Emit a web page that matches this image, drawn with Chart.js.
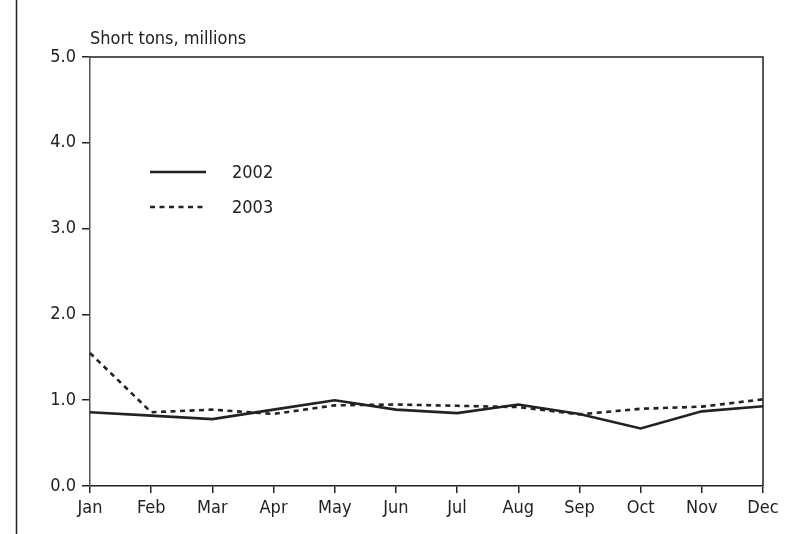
<!DOCTYPE html>
<html><head><meta charset="utf-8">
<script src="https://cdn.jsdelivr.net/npm/chart.js@4/dist/chart.umd.min.js"></script>
<style>html,body{margin:0;padding:0;background:#fff}#wrap{width:809px;height:534px;position:relative}</style>
</head><body><div id="wrap"><canvas id="c" width="809" height="534"></canvas></div>
<script>
const months = ["Jan","Feb","Mar","Apr","May","Jun","Jul","Aug","Sep","Oct","Nov","Dec"];
const series2002 = [0.86,0.82,0.78,0.89,1.00,0.89,0.85,0.95,0.84,0.67,0.87,0.93];
const series2003 = [1.55,0.86,0.89,0.84,0.94,0.95,0.935,0.92,0.835,0.90,0.925,1.01];
const seriesNames = ["2002","2003"];
const yTicks = [0,1,2,3,4,5];
const unitLabel = "Short tons, millions";

const FONT = "'DejaVu Sans Condensed','Liberation Sans',sans-serif";
const INK = "#222";

const decor = {
  id: 'decor',
  afterDraw(chart) {
    const {ctx, chartArea: a} = chart;
    ctx.save();
    ctx.strokeStyle = INK; ctx.lineWidth = 1.5;
    ctx.beginPath();
    ctx.moveTo(a.left, a.top); ctx.lineTo(a.right, a.top); ctx.lineTo(a.right, a.bottom);
    ctx.stroke();
    ctx.lineWidth = 1.5;
    ctx.beginPath(); ctx.moveTo(16.5, 0); ctx.lineTo(16.5, 534); ctx.stroke();
    ctx.fillStyle = INK; ctx.font = "18px " + FONT; ctx.textBaseline = "alphabetic"; ctx.textAlign = "left";
    ctx.fillText(unitLabel, a.left, 44);
    // legend
    const ds = chart.data.datasets;
    ds.forEach((d, i) => {
      const y = 172 + i * 35;
      ctx.strokeStyle = d.borderColor; ctx.lineWidth = d.borderWidth;
      ctx.setLineDash(d.borderDash || []);
      ctx.beginPath(); ctx.moveTo(150, y); ctx.lineTo(206, y); ctx.stroke();
      ctx.setLineDash([]);
      ctx.textBaseline = "middle";
      ctx.fillText(d.label, 232, y + 1);
    });
    ctx.restore();
  }
};

new Chart(document.getElementById('c'), {
  type: 'line',
  data: {
    labels: months,
    datasets: [
      {label: seriesNames[0], data: series2002, borderColor: INK, borderWidth: 2.6, pointRadius: 0, tension: 0, fill: false},
      {label: seriesNames[1], data: series2003, borderColor: INK, borderWidth: 2.6, borderDash: [5,4.5], pointRadius: 0, tension: 0, fill: false}
    ]
  },
  options: {
    responsive: false, animation: false, devicePixelRatio: 1,
    layout: {padding: {left: 0, right: 46, top: 57, bottom: 0}},
    plugins: {legend: {display: false}, tooltip: {enabled: false}, title: {display: false}},
    scales: {
      x: {
        offset: false,
        grid: {display: true, drawOnChartArea: false, drawTicks: true, tickLength: 7, color: INK, lineWidth: 1.5},
        border: {display: true, color: INK, width: 1.5},
        ticks: {color: INK, font: {family: FONT, size: 18}, padding: 5, maxRotation: 0, autoSkip: false},
        afterFit(s) { s.height = 48; }
      },
      y: {
        min: 0, max: 5,
        afterBuildTicks(s) { s.ticks = yTicks.map(v => ({value: v})); },
        grid: {display: true, drawOnChartArea: false, drawTicks: true, tickLength: 8, color: INK, lineWidth: 1.5},
        border: {display: true, color: "#555", width: 1.5},
        ticks: {color: INK, font: {family: FONT, size: 18}, padding: 6, callback: v => Number(v).toFixed(1)},
        afterFit(s) { s.width = 90; }
      }
    }
  },
  plugins: [decor]
});
</script></body></html>
